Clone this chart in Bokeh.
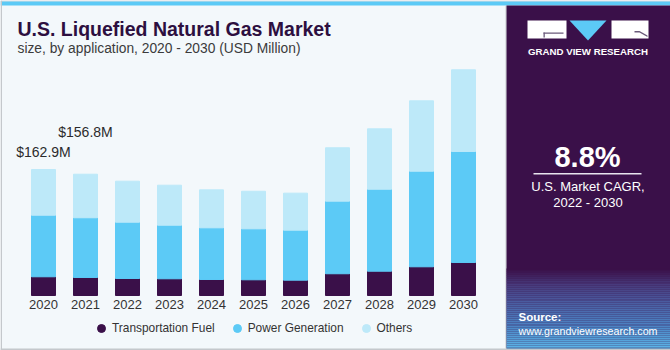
from bokeh.plotting import figure
from bokeh.models import (ColumnDataSource, Range1d, BoxAnnotation, Label, Legend, LegendItem,
                          PolyAnnotation)
from bokeh.embed import file_html
from bokeh.resources import INLINE

# ---------------- data ----------------
years = [2020, 2021, 2022, 2023, 2024, 2025, 2026, 2027, 2028, 2029, 2030]
transportation_fuel = [24.2, 23.3, 22.0, 21.6, 20.7, 20.3, 19.8, 28.1, 31.4, 37.1, 42.7]
power_generation = [79.6, 77.2, 72.8, 69.3, 66.8, 65.9, 64.7, 93.9, 106.0, 123.6, 143.5]
others = [59.1, 56.3, 53.0, 51.7, 49.1, 48.6, 47.8, 69.0, 78.1, 91.0, 105.6]
series_names = ["Transportation Fuel", "Power Generation", "Others"]
value_label_years = [2020, 2021]
value_label_texts = ["$162.9M", "$156.8M"]
title_text = "U.S. Liquefied Natural Gas Market"
subtitle_text = "size, by application, 2020 - 2030 (USD Million)"
cagr_text = "8.8%"
cagr_caption = ["U.S. Market CAGR,", "2022 - 2030"]

# ---------------- layout ----------------
W, H = 670, 350
FONT = "Liberation Sans"
C_TF, C_PG, C_OT = "#3a1049", "#5ccaf6", "#bde9f9"
PANEL = "#3a1049"

px_per_year = 42.0
first_px = 43.0
baseline_px = 295.0          # from top
px_per_unit = 126.0 / 162.9

x0 = years[0] - first_px / px_per_year
x1 = years[0] + (W - first_px) / px_per_year
y0 = -(H - baseline_px) / px_per_unit
y1 = baseline_px / px_per_unit

p = figure(width=W, height=H, output_backend="svg", toolbar_location=None,
           x_range=Range1d(x0, x1), y_range=Range1d(y0, y1),
           x_axis_type=None, y_axis_type=None, min_border=0,
           background_fill_color="#f3f8fb", border_fill_color="#f3f8fb",
           outline_line_color=None)
p.grid.visible = False

totals = [a + b + c for a, b, c in zip(transportation_fuel, power_generation, others)]
src = ColumnDataSource(dict(year=years, tf=transportation_fuel, pg=power_generation,
                            ot=others, label=[str(y) for y in years], total=totals))

p.vbar_stack(["tf", "pg", "ot"], x="year", width=24.0 / px_per_year,
             color=[C_TF, C_PG, C_OT], source=src)

# year labels under bars
p.text(x="year", y=0, text="label", source=src, text_align="center",
       text_baseline="middle", y_offset=9, text_font_size="13px",
       text_color="#333333", text_font={"value": FONT})

# value labels
lbl_totals = [totals[years.index(y)] for y in value_label_years]
lsrc = ColumnDataSource(dict(x=value_label_years, y=lbl_totals, t=value_label_texts,
                             off=[-18, -42]))
p.text(x="x", y="y", text="t", source=lsrc, y_offset="off", text_align="center",
       text_baseline="middle", text_font_size="14px", text_color="#2b2b2b",
       text_font={"value": FONT})

# legend (marker renderers carry no visible points)
lr = []
for c in (C_TF, C_PG, C_OT):
    lr.append(p.scatter(x=[years[0]], y=[float("nan")], marker="circle", size=8,
                        color=c))
legend = Legend(items=[LegendItem(label=n, renderers=[r]) for n, r in zip(series_names, lr)],
                orientation="horizontal", location=(91, 12), glyph_width=20, glyph_height=20,
                label_standoff=1, spacing=12, padding=0, margin=0,
                border_line_alpha=0, background_fill_alpha=0,
                label_text_font_size="11.9px", label_text_color="#333333",
                label_text_font=FONT, label_height=20)
p.add_layout(legend)


def box(l, r, t, b, color):
    p.add_layout(BoxAnnotation(left=l, right=r, top=H - t, bottom=H - b,
                               left_units="screen", right_units="screen",
                               top_units="screen", bottom_units="screen",
                               fill_color=color, fill_alpha=1.0, line_alpha=0))


def label(x, y, text, size, color, bold=False, align="left"):
    # y is the vertical centre of the text, measured from the top
    p.add_layout(Label(x=x, y=H - y, x_units="screen", y_units="screen", text=text,
                       text_font=FONT, text_font_size=size, text_color=color,
                       text_font_style="bold" if bold else "normal",
                       text_align=align, text_baseline="middle"))


def hexmix(c1, c2, t):
    a = [int(c1[i:i + 2], 16) for i in (1, 3, 5)]
    b = [int(c2[i:i + 2], 16) for i in (1, 3, 5)]
    return "#" + "".join("%02x" % round(u + (v - u) * t) for u, v in zip(a, b))


# frame lines
box(0, W, 0, 1, "#c4c8cc")
box(0, W, 1, 5, "#5ccaf6")
box(0, 1.5, 0, H, "#c4c8cc")
box(0, W, H - 2, H, "#c4c8cc")

# right panel
box(505, 506, 5, H - 2, "#c4c8cc")
box(506, W, 5, H - 2, PANEL)
stops = [(268, PANEL), (283, "#483a7c"), (300, "#4a5b9f"), (325, "#4c84c4"), (348, "#5cb8ea")]
for (ta, ca), (tb, cb) in zip(stops[:-1], stops[1:]):
    y = ta
    while y < tb:
        box(506, W, y, min(y + 2, tb), hexmix(ca, cb, (y - ta) / (tb - ta)))
        y += 2

# logo
box(527, 566, 20, 38, "#ffffff")
box(611, 648, 20, 38, "#ffffff")
p.add_layout(PolyAnnotation(xs=[569, 606, 587.5], ys=[H - 20, H - 20, H - 40],
                            xs_units="screen", ys_units="screen",
                            fill_color="#5ccaf6", fill_alpha=1, line_alpha=0))
box(543, 563, 32, 33.3, "#6a5a7a")
box(543, 544.3, 32, 37, "#6a5a7a")
p.add_layout(PolyAnnotation(xs=[634, 639, 647, 647, 639, 634],
                            ys=[H - 30.5, H - 30.5, H - 35, H - 36.5, H - 32, H - 32],
                            xs_units="screen", ys_units="screen",
                            fill_color="#6a5a7a", fill_alpha=1, line_alpha=0))
label(587.5, 50.7, "GRAND VIEW RESEARCH", "9.7px", "#ffffff", bold=True, align="center")

# CAGR
label(587, 156.5, cagr_text, "29px", "#ffffff", bold=True, align="center")
box(533, 641, 172.5, 174, "#e8e4ee")
label(587.5, 185.5, cagr_caption[0], "13px", "#ffffff", align="center")
label(587.5, 201.5, cagr_caption[1], "13px", "#ffffff", align="center")

# source
label(518, 316, "Source:", "11.5px", "#ffffff", bold=True)
label(518, 330, "www.grandviewresearch.com", "10.7px", "#ffffff")

# titles
label(17, 28, title_text, "19.5px", "#2d0f40", bold=True)
label(17, 48, subtitle_text, "13.8px", "#3b3b3b")

open("out.html", "w").write(file_html(p, INLINE))
